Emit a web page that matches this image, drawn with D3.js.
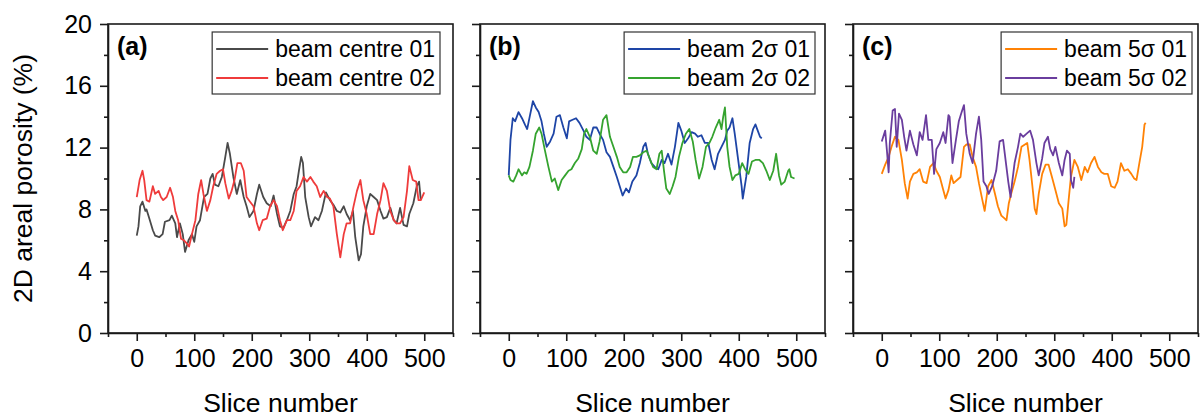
<!DOCTYPE html>
<meta charset="utf-8">
<style>
    body { margin: 0; background: #fff; }
    svg { font-family: "Liberation Sans", Arial, sans-serif; }
    .axis path, .axis line { stroke: #1a1a1a; stroke-width: 1.6px; }
    .axis text { font-size: 25px; fill: #000; }
    .frame { fill: none; stroke: #1a1a1a; stroke-width: 1.6px; }
    .line { fill: none; stroke-width: 1.8px; stroke-linejoin: round; }
    .legend-box { fill: #fff; stroke: #333; stroke-width: 1.2px; }
</style>
<body>
<svg width="1200" height="417"></svg>
<script src="https://d3js.org/d3.v7.min.js"></script>
<script>

    // ---- data ----
    var panelLabels = ["(a)", "(b)", "(c)"];
    var seriesNames = [["beam centre 01", "beam centre 02"], ["beam 2σ 01", "beam 2σ 02"], ["beam 5σ 01", "beam 5σ 02"]];
    var xMajorTicks = [0, 100, 200, 300, 400, 500];
    var xMinorTicks = [-50, 50, 150, 250, 350, 450, 550];
    var yMajorTicks = [0, 4, 8, 12, 16, 20];
    var yMinorTicks = [2, 6, 10, 14, 18];

    var centre01X = [0,3,6,10,15,17,22,28,32,39,45,49,57,61,67,70,75,80,84,90,96,100,104,110,117,123,128,132,136,142,148,154,158,162,168,174,180,186,191,196,203,209,213,220,226,233,238,244,249,255,261,267,273,278,282,286,289,293,299,303,310,316,322,329,336,342,348,354,360,365,371,376,380,386,390,394,400,406,412,418,424,429,435,441,447,452,458,464,470,474,481,487,491,494];
    var centre01Y = [6.3,6.9,8.2,8.5,7.9,8.0,7.4,6.65,6.3,6.2,6.4,7.2,7.3,7.6,7.1,6.2,7.1,6.4,5.25,6.0,6.4,5.9,6.9,7.3,8.8,9.0,10.0,10.3,9.6,9.5,10.1,11.4,12.3,11.6,10.1,9.0,9.9,8.8,8.2,7.5,7.9,9.0,9.6,8.8,8.4,8.2,8.9,7.7,6.9,6.8,7.3,7.9,9.0,9.5,10.5,11.4,11.0,8.8,7.5,6.9,7.5,7.3,7.9,9.1,8.6,8.3,7.9,7.8,8.2,7.7,7.3,7.9,6.2,4.7,5.1,6.9,8.2,9.0,8.8,8.6,7.9,7.4,7.5,8.1,7.3,7.1,8.1,7.0,6.9,7.7,8.4,9.5,9.8,8.6];

    var centre02X = [0,5,10,13,17,22,28,32,38,42,46,52,58,63,67,72,77,82,87,91,96,102,107,112,116,122,128,133,139,145,150,154,160,165,170,175,181,186,191,197,203,209,213,219,226,232,238,244,249,254,261,267,273,278,284,290,296,302,307,313,319,325,331,336,342,348,354,360,365,371,377,383,389,394,400,406,412,418,424,429,435,441,447,452,458,464,470,474,480,486,490,494,500];
    var centre02Y = [8.8,9.9,10.5,9.9,8.6,8.5,9.5,9.0,9.2,8.8,8.6,8.8,9.4,8.8,7.9,7.3,6.1,6.0,5.8,5.6,6.4,7.3,9.0,9.9,9.0,7.9,8.6,9.5,10.3,10.5,10.6,9.7,8.7,9.2,9.9,11.0,11.0,10.5,8.8,8.5,8.2,7.1,6.65,7.3,7.4,8.2,8.6,8.2,7.3,6.65,7.3,7.3,7.9,9.2,9.5,10.1,9.8,10.1,9.8,9.5,8.8,9.2,8.8,8.7,8.2,6.4,4.9,6.4,7.1,7.1,8.2,9.2,9.9,8.6,7.7,6.4,6.4,7.7,8.6,9.7,9.2,7.9,7.3,7.1,7.1,7.5,9.2,10.8,9.9,9.8,8.6,8.6,9.1];

    var sigma2_01X = [0,3,7,11,17,23,28,32,37,42,47,52,57,61,66,72,78,83,89,95,101,105,111,117,123,130,135,141,147,153,158,164,170,176,182,188,193,198,204,209,215,222,228,234,238,242,248,254,260,266,271,277,283,289,295,300,306,312,318,324,329,335,341,347,353,358,364,370,376,380,384,389,393,399,405,407,413,419,425,429,433,437,440];
    var sigma2_01Y = [10.2,12.5,13.9,13.7,14.3,13.9,13.5,13.2,14.1,15.0,14.6,14.3,13.7,12.9,12.05,12.4,12.9,14.0,14.1,13.3,12.6,13.7,13.8,13.9,13.6,13.1,12.7,12.5,13.3,13.3,12.9,12.5,11.7,11.4,10.75,10.1,9.5,8.9,9.35,9.1,9.8,10.2,11.0,12.05,12.3,11.6,11.0,10.75,10.6,11.2,11.0,11.6,10.9,12.05,13.6,13.1,12.3,12.6,13.0,12.9,12.7,12.8,12.3,12.3,11.2,10.6,11.6,12.05,12.5,13.1,13.3,13.9,12.9,11.2,9.5,8.7,10.1,12.3,13.2,13.5,13.1,12.7,12.6];

    var sigma2_02X = [0,3,8,13,17,23,27,31,36,42,47,53,57,63,69,75,80,86,92,98,104,109,115,121,127,131,135,141,147,153,158,164,170,176,182,188,193,199,205,211,216,222,228,234,240,246,251,257,262,266,270,274,280,285,290,296,302,308,314,320,325,331,337,343,349,354,360,366,370,373,376,380,384,389,394,400,406,411,417,423,429,436,442,448,454,460,465,470,474,480,486,488,491,497];
    var sigma2_02Y = [10.2,9.9,9.8,10.2,10.6,10.2,10.4,10.3,10.75,11.8,12.9,13.3,12.9,11.8,10.75,9.8,10.0,9.25,9.9,10.2,10.5,10.6,11.0,11.3,11.9,12.9,13.2,12.7,11.8,11.6,12.4,13.8,14.1,12.7,12.05,11.4,10.75,10.4,10.4,10.75,11.4,11.4,11.5,11.7,11.8,11.2,10.75,10.6,11.6,11.8,10.5,9.35,9.0,9.5,10.1,11.4,12.3,12.9,13.2,12.4,11.2,10.0,10.75,12.05,12.3,12.7,13.3,13.8,13.2,14.0,14.6,12.05,10.75,9.9,10.2,10.3,11.0,10.6,10.3,11.1,11.2,11.2,11.0,10.5,9.9,10.5,11.6,10.2,9.6,9.8,10.5,10.6,10.1,10.0];

    var sigma5_01X = [0,6,12,17,23,29,35,40,45,49,55,61,66,72,78,84,90,95,101,107,111,116,121,125,131,137,143,147,153,158,164,169,175,179,185,191,197,202,208,214,217,221,225,231,237,243,249,253,257,262,266,269,273,279,285,290,296,302,308,314,318,321,325,329,335,341,347,353,358,364,370,376,382,387,393,399,405,410,416,422,428,434,439,443,448,453,457,459];
    var sigma5_01Y = [10.3,10.9,11.4,12.05,12.7,12.5,11.2,9.7,8.7,9.8,10.3,10.4,10.6,9.8,9.7,10.75,11.0,10.5,10.1,9.25,8.7,9.25,10.2,9.7,9.9,10.1,12.05,12.2,12.2,11.4,10.75,9.7,8.6,7.9,9.5,9.9,9.0,8.2,7.6,7.4,7.3,8.4,9.0,9.8,10.75,12.05,12.2,12.3,11.2,9.5,8.05,7.7,9.0,10.3,10.9,10.9,10.1,9.25,8.4,8.05,6.9,7.0,8.6,10.1,11.2,10.75,9.9,10.75,10.4,11.0,11.4,10.75,10.4,10.3,10.3,9.5,9.4,9.8,11.0,10.5,10.6,10.3,10.0,9.9,11.0,12.05,13.5,13.6];

    var sigma5_02X = [0,6,9,12,14,19,23,26,30,35,39,43,49,55,61,66,71,77,81,87,91,95,101,107,111,116,118,123,129,134,139,143,147,153,158,164,169,173,177,182,186,192,199,205,211,216,220,224,227,231,237,241,246,252,258,263,269,273,279,283,289,293,298,302,308,314,318,322,327,329,333,335];
    var sigma5_02Y = [12.4,13.1,11.8,10.4,12.3,14.4,14.5,12.05,14.2,13.8,12.7,11.8,13.1,12.2,11.5,13.0,12.5,14.1,12.5,12.5,10.3,11.9,12.3,13.0,12.3,14.1,14.0,11.0,12.5,13.7,14.3,14.75,12.9,11.6,11.0,12.9,14.0,12.5,9.8,9.5,9.0,9.5,10.5,12.4,12.5,11.0,9.8,8.8,9.8,11.0,12.05,12.9,12.7,12.9,13.1,12.5,11.0,10.2,11.3,12.3,12.7,11.9,11.5,12.05,11.0,10.2,11.2,11.8,11.6,9.9,9.4,10.1];

    // ---- layout ----
    var svg = d3.select("svg");
    var panelLeft = [108, 480, 853],
        marginTop = 24, w = 345, h = 309,
        legendInset = [13, 10, 6];

    var colors = [["#4a4a4a", "#ef3b3b"], ["#1e45a6", "#35a32f"], ["#ff8205", "#6a3d9e"]];
    var seriesData = [
        [[centre01X, centre01Y], [centre02X, centre02Y]],
        [[sigma2_01X, sigma2_01Y], [sigma2_02X, sigma2_02Y]],
        [[sigma5_01X, sigma5_01Y], [sigma5_02X, sigma5_02Y]]
    ];

    var x = d3.scaleLinear().domain([-50, 550]).range([0, w]);
    var y = d3.scaleLinear().domain([0, 20]).range([h, 0]);

    var line = d3.line()
        .x(function (d) { return x(d[0]); })
        .y(function (d) { return y(d[1]); });

    panelLeft.forEach(function (left, p) {
        var g = svg.append("g").attr("transform", "translate(" + left + "," + marginTop + ")");

        // minor ticks first, then major axes on top
        g.append("g").attr("class", "axis")
            .attr("transform", "translate(0," + h + ")")
            .call(d3.axisBottom(x).tickValues(xMinorTicks).tickSize(4).tickFormat(""))
            .select(".domain").remove();
        g.append("g").attr("class", "axis")
            .call(d3.axisLeft(y).tickValues(yMinorTicks).tickSize(4).tickFormat(""))
            .select(".domain").remove();

        g.append("g").attr("class", "axis")
            .attr("transform", "translate(0," + h + ")")
            .call(d3.axisBottom(x).tickValues(xMajorTicks).tickSize(8).tickSizeOuter(0).tickPadding(8));

        var yAxis = d3.axisLeft(y).tickValues(yMajorTicks).tickSize(8).tickSizeOuter(0).tickPadding(8);
        if (p > 0) yAxis.tickFormat("");
        g.append("g").attr("class", "axis").call(yAxis);

        g.append("rect").attr("class", "frame")
            .attr("width", w).attr("height", h);

        seriesData[p].forEach(function (s, i) {
            var pts = s[0].map(function (v, k) { return [v, s[1][k]]; });
            g.append("path")
                .datum(pts)
                .attr("class", "line")
                .attr("stroke", colors[p][i])
                .attr("d", line);
        });

        // panel label
        g.append("text")
            .attr("x", 9).attr("y", 31)
            .style("font-size", "25px").style("font-weight", "bold")
            .text(panelLabels[p]);

        // legend
        var lg = g.append("g");
        var box = lg.append("rect").attr("class", "legend-box");
        var maxLen = 0;
        seriesNames[p].forEach(function (name, i) {
            var t = lg.append("text")
                .attr("x", 63).attr("y", 17 + i * 29)
                .attr("dy", "0.35em")
                .style("font-size", "23px")
                .text(name);
            maxLen = Math.max(maxLen, t.node().getComputedTextLength());
            lg.append("line")
                .attr("x1", 4).attr("x2", 56)
                .attr("y1", 17 + i * 29).attr("y2", 17 + i * 29)
                .attr("stroke", colors[p][i]).attr("stroke-width", 1.8);
        });
        var bw = 63 + maxLen + 5;
        box.attr("width", bw).attr("height", 62);
        lg.attr("transform", "translate(" + (w - legendInset[p] - bw) + ",8)");

        // x title
        g.append("text")
            .attr("x", w / 2).attr("y", 388)
            .attr("text-anchor", "middle")
            .style("font-size", "26.5px")
            .text("Slice number");
    });

    svg.append("text")
        .attr("transform", "translate(32," + (marginTop + h / 2) + ") rotate(-90)")
        .attr("text-anchor", "middle")
        .style("font-size", "26.5px")
        .text("2D areal porosity (%)");

</script>
</body>
